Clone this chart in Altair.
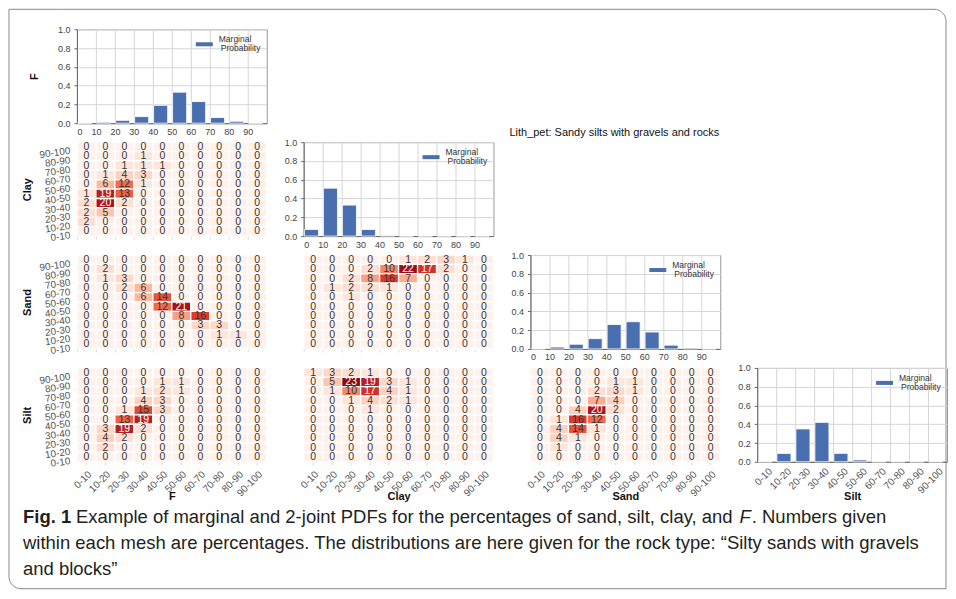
import altair as alt
import pandas as pd

FONT = "Liberation Sans"
W, H = 190, 94

bins = ["0-10", "10-20", "20-30", "30-40", "40-50", "50-60", "60-70", "70-80", "80-90", "90-100"]
bin_start = [0, 10, 20, 30, 40, 50, 60, 70, 80, 90]

# Marginal probabilities (bar charts)
f_marginal = [0.00, 0.01, 0.03, 0.07, 0.19, 0.33, 0.23, 0.06, 0.02, 0.00]
clay_marginal = [0.07, 0.51, 0.33, 0.07, 0.005, 0.00, 0.00, 0.00, 0.00, 0.00]
sand_marginal = [0.00, 0.02, 0.05, 0.11, 0.26, 0.29, 0.18, 0.04, 0.01, 0.00]
silt_marginal = [0.00, 0.09, 0.35, 0.42, 0.09, 0.02, 0.00, 0.00, 0.00, 0.00]

# Joint PDFs (%), rows listed from top (90-100) to bottom (0-10)
f_clay = [
    [0, 0, 0, 0, 0, 0, 0, 0, 0, 0],
    [0, 0, 0, 1, 0, 0, 0, 0, 0, 0],
    [0, 0, 1, 1, 1, 0, 0, 0, 0, 0],
    [0, 1, 4, 3, 0, 0, 0, 0, 0, 0],
    [0, 6, 12, 1, 0, 0, 0, 0, 0, 0],
    [1, 19, 13, 0, 0, 0, 0, 0, 0, 0],
    [2, 20, 2, 0, 0, 0, 0, 0, 0, 0],
    [2, 5, 0, 0, 0, 0, 0, 0, 0, 0],
    [2, 0, 0, 0, 0, 0, 0, 0, 0, 0],
    [0, 0, 0, 0, 0, 0, 0, 0, 0, 0],
]
f_sand = [
    [0, 0, 0, 0, 0, 0, 0, 0, 0, 0],
    [0, 2, 0, 0, 0, 0, 0, 0, 0, 0],
    [0, 1, 3, 0, 0, 0, 0, 0, 0, 0],
    [0, 0, 2, 6, 0, 0, 0, 0, 0, 0],
    [0, 0, 0, 6, 14, 0, 0, 0, 0, 0],
    [0, 0, 0, 0, 12, 21, 0, 0, 0, 0],
    [0, 0, 0, 0, 0, 8, 16, 0, 0, 0],
    [0, 0, 0, 0, 0, 0, 3, 3, 0, 0],
    [0, 0, 0, 0, 0, 0, 0, 1, 1, 0],
    [0, 0, 0, 0, 0, 0, 0, 0, 0, 0],
]
f_silt = [
    [0, 0, 0, 0, 0, 0, 0, 0, 0, 0],
    [0, 0, 0, 0, 1, 1, 0, 0, 0, 0],
    [0, 0, 0, 1, 2, 1, 0, 0, 0, 0],
    [0, 0, 0, 4, 3, 0, 0, 0, 0, 0],
    [0, 0, 1, 15, 3, 0, 0, 0, 0, 0],
    [0, 0, 13, 19, 0, 0, 0, 0, 0, 0],
    [0, 3, 19, 2, 0, 0, 0, 0, 0, 0],
    [0, 4, 2, 0, 0, 0, 0, 0, 0, 0],
    [0, 2, 0, 0, 0, 0, 0, 0, 0, 0],
    [0, 0, 0, 0, 0, 0, 0, 0, 0, 0],
]
clay_sand = [
    [0, 0, 0, 0, 0, 1, 2, 3, 1, 0],
    [0, 0, 0, 2, 10, 22, 17, 2, 0, 0],
    [0, 0, 2, 8, 16, 7, 0, 0, 0, 0],
    [0, 1, 2, 2, 1, 0, 0, 0, 0, 0],
    [0, 0, 1, 0, 0, 0, 0, 0, 0, 0],
    [0, 0, 0, 0, 0, 0, 0, 0, 0, 0],
    [0, 0, 0, 0, 0, 0, 0, 0, 0, 0],
    [0, 0, 0, 0, 0, 0, 0, 0, 0, 0],
    [0, 0, 0, 0, 0, 0, 0, 0, 0, 0],
    [0, 0, 0, 0, 0, 0, 0, 0, 0, 0],
]
clay_silt = [
    [1, 3, 2, 1, 0, 0, 0, 0, 0, 0],
    [0, 5, 23, 19, 3, 1, 0, 0, 0, 0],
    [0, 1, 10, 17, 4, 1, 0, 0, 0, 0],
    [0, 0, 1, 4, 2, 1, 0, 0, 0, 0],
    [0, 0, 0, 1, 0, 0, 0, 0, 0, 0],
    [0, 0, 0, 0, 0, 0, 0, 0, 0, 0],
    [0, 0, 0, 0, 0, 0, 0, 0, 0, 0],
    [0, 0, 0, 0, 0, 0, 0, 0, 0, 0],
    [0, 0, 0, 0, 0, 0, 0, 0, 0, 0],
    [0, 0, 0, 0, 0, 0, 0, 0, 0, 0],
]
sand_silt = [
    [0, 0, 0, 0, 0, 0, 0, 0, 0, 0],
    [0, 0, 0, 0, 1, 1, 0, 0, 0, 0],
    [0, 0, 0, 2, 3, 1, 0, 0, 0, 0],
    [0, 0, 0, 7, 4, 0, 0, 0, 0, 0],
    [0, 0, 4, 20, 2, 0, 0, 0, 0, 0],
    [0, 1, 16, 12, 0, 0, 0, 0, 0, 0],
    [0, 4, 14, 1, 0, 0, 0, 0, 0, 0],
    [0, 4, 1, 0, 0, 0, 0, 0, 0, 0],
    [0, 1, 0, 0, 0, 0, 0, 0, 0, 0],
    [0, 0, 0, 0, 0, 0, 0, 0, 0, 0],
]

# colour ramp of the percentage cells
heat_domain = [0, 1, 4, 8, 12, 16, 20, 23]
heat_range = ["#fff1eb", "#fee6dc", "#fdd1bf", "#fb9f82", "#f4684b", "#de3a2c", "#b0131b", "#8e0b16"]

caption_bold = "Fig. 1"
caption_l1a = "Example of marginal and 2-joint PDFs for the percentages of sand, silt, clay, and"
caption_l1b = "F"
caption_l1c = ". Numbers given"
caption_l2 = "within each mesh are percentages. The distributions are here given for the rock type: \u201cSilty sands with gravels"
caption_l3 = "and blocks\u201d"
lith_text = "Lith_pet: Sandy silts with gravels and rocks"

BAR_COLOR = "#4a6fb0"
CAP_SIZE = 18.5
one = pd.DataFrame({"a": [0]})

# Arial / Liberation Sans advance widths (1/1000 em) to place caption pieces
ARIAL = {' ': 278, 'a': 556, 'b': 556, 'c': 500, 'd': 556, 'e': 556, 'f': 278, 'g': 556,
         'h': 556, 'i': 222, 'j': 222, 'k': 500, 'l': 222, 'm': 833, 'n': 556, 'o': 556,
         'p': 556, 'q': 556, 'r': 333, 's': 500, 't': 278, 'u': 556, 'v': 500, 'w': 722,
         'x': 500, 'y': 500, 'z': 500, ',': 278, '.': 278, '-': 333, '2': 556, '1': 556,
         'D': 722, 'E': 667, 'F': 611, 'P': 667, 'S': 667, 'N': 722, 'T': 611}


def text_w(s, size):
    return sum(ARIAL.get(c, 556) for c in s) * size / 1000.0


def heat_df(mat):
    rows = []
    for i, row in enumerate(mat):
        ylab = bins[len(bins) - 1 - i]
        for j, v in enumerate(row):
            rows.append({"x": bins[j], "y": ylab, "v": v})
    return pd.DataFrame(rows)


def heatmap(mat, ytitle=None, xtitle=None):
    df = heat_df(mat)
    if xtitle:
        xaxis = alt.Axis(title=xtitle, labelAngle=-45, labelFontSize=10, labelColor="#555",
                         labelFont=FONT, titleFont=FONT, titleFontSize=11, titleFontWeight="bold",
                         titleColor="#111", domain=False, ticks=True, tickColor="#ddd", tickSize=3,
                         labelPadding=4, labelOverlap=False, titleY=35, titleBaseline="middle")
    else:
        xaxis = alt.Axis(title=None, labels=False, domain=False, ticks=True, tickColor="#ddd",
                         tickSize=3, bandPosition=0)
    if ytitle:
        yaxis = alt.Axis(title=ytitle, labelFontSize=10, labelColor="#555", labelFont=FONT,
                         labelAngle=-8, domain=False, ticks=False, labelPadding=7, labelOffset=4,
                         labelOverlap=False,
                         titleFont=FONT, titleFontWeight="bold", titleFontSize=11, titleColor="#111",
                         titlePadding=6)
    else:
        yaxis = None
    base = alt.Chart(df).encode(
        x=alt.X("x:O", sort=bins, axis=xaxis),
        y=alt.Y("y:O", sort=bins[::-1], axis=yaxis),
    )
    rect = base.mark_rect(stroke="white", strokeWidth=1.3).encode(
        color=alt.Color("v:Q", scale=alt.Scale(domain=heat_domain, range=heat_range), legend=None)
    )
    txt = base.mark_text(font=FONT, fontSize=10.5).encode(
        text="v:Q",
        color=alt.condition("datum.v >= 17", alt.value("white"), alt.value("#333")),
    )
    return alt.layer(rect, txt).properties(width=W, height=H, view=alt.ViewBackground(stroke=None))


def bar(vals, ytitle=None, xtitle=None, cat_labels=False, extra=()):
    df = pd.DataFrame({"start": bin_start, "v": vals})
    df["x1"] = df["start"] + 0.4
    df["x2"] = df["start"] + 7.8
    df["zero"] = 0.0
    if cat_labels:
        xaxis = alt.Axis(values=bin_start, grid=True, gridColor="#d6d6d6", labelFontSize=10,
                         labelColor="#555", labelFont=FONT, domain=True, domainColor="#666",
                         ticks=False, labelAngle=-45, labelOffset=9.5, labelPadding=4,
                         labelOverlap=False,
                         labelExpr="datum.value + '-' + (datum.value + 10)",
                         title=xtitle, titleFont=FONT, titleFontSize=11, titleFontWeight="bold",
                         titleColor="#111", titleY=35, titleBaseline="middle")
    else:
        xaxis = alt.Axis(values=bin_start, grid=True, gridColor="#d6d6d6", labelFontSize=9,
                         labelColor="#444", labelFont=FONT, domain=True, domainColor="#666",
                         ticks=False, labelPadding=4, labelOverlap=False, title=None)
    yaxis = alt.Axis(values=[0, 0.2, 0.4, 0.6, 0.8, 1.0], format=".1f", grid=True,
                     gridColor="#d6d6d6", labelFontSize=9, labelColor="#444", labelFont=FONT,
                     domain=True, domainColor="#666", ticks=True, tickColor="#666", tickSize=3,
                     labelPadding=4, title=ytitle, titleFont=FONT, titleFontSize=11,
                     titleFontWeight="bold", titleColor="#111", titlePadding=18)
    bars = alt.Chart(df).mark_rect(color=BAR_COLOR, stroke="white", strokeWidth=0.8).encode(
        x=alt.X("x1:Q", scale=alt.Scale(domain=[0, 100], nice=False), axis=xaxis),
        x2="x2:Q",
        y=alt.Y("v:Q", scale=alt.Scale(domain=[0, 1], nice=False), axis=yaxis),
        y2="zero:Q",
    )
    sw = alt.Chart(one).mark_rect(color=BAR_COLOR).encode(
        x=alt.value(119), x2=alt.value(136), y=alt.value(13), y2=alt.value(17))
    t1 = alt.Chart(one).mark_text(align="left", baseline="middle", font=FONT, fontSize=8.5,
                                  color="#333").encode(x=alt.value(142), y=alt.value(10),
                                                       text=alt.value("Marginal"))
    t2 = alt.Chart(one).mark_text(align="left", baseline="middle", font=FONT, fontSize=8.5,
                                  color="#333").encode(x=alt.value(144), y=alt.value(19),
                                                       text=alt.value("Probability"))
    return alt.layer(bars, sw, t1, t2, *extra).properties(
        width=W, height=H, view=alt.ViewBackground(stroke="#999"))


def placeholder(extra=()):
    p = alt.Chart(one).mark_point(opacity=0).encode(x=alt.value(0), y=alt.value(0))
    return alt.layer(p, *extra).properties(width=W, height=H, view=alt.ViewBackground(stroke=None))


# frame and caption (relative to the first panel's plot origin)
frame = alt.Chart(one).mark_rect(fill="white", fillOpacity=0, stroke="#8a8a8a", strokeWidth=1,
                                 cornerRadiusTopRight=12, cornerRadiusBottomLeft=12).encode(
    x=alt.value(-68), x2=alt.value(870), y=alt.value(-20), y2=alt.value(560))


def cap(text, x, y, weight="normal", style="normal"):
    return alt.Chart(one).mark_text(align="left", baseline="alphabetic", font=FONT,
                                    fontSize=CAP_SIZE, fontWeight=weight, fontStyle=style,
                                    color="#231f20").encode(
        x=alt.value(x), y=alt.value(y), text=alt.value(text))


x_l1a = -1
x_f = x_l1a + text_w(caption_l1a + " ", CAP_SIZE)
x_rest = x_f + text_w(caption_l1b, CAP_SIZE) + 1

caption = [
    cap(caption_bold, -54, 494, weight="bold"),
    cap(caption_l1a, x_l1a, 494),
    cap(caption_l1b, x_f, 494, style="italic"),
    cap(caption_l1c, x_rest, 494),
    cap(caption_l2, -54, 520),
    cap(caption_l3, -54, 546),
]

lith = alt.Chart(one).mark_text(align="left", baseline="middle", font=FONT, fontSize=11,
                                color="#111").encode(x=alt.value(-21), y=alt.value(-9),
                                                     text=alt.value(lith_text))

cells = [
    bar(f_marginal, ytitle="F", extra=[frame] + caption),
    placeholder(), placeholder(), placeholder(),
    heatmap(f_clay, ytitle="Clay"),
    bar(clay_marginal),
    placeholder([lith]), placeholder(),
    heatmap(f_sand, ytitle="Sand"),
    heatmap(clay_sand),
    bar(sand_marginal),
    placeholder(),
    heatmap(f_silt, ytitle="Silt", xtitle="F"),
    heatmap(clay_silt, xtitle="Clay"),
    heatmap(sand_silt, xtitle="Sand"),
    bar(silt_marginal, xtitle="Silt", cat_labels=True),
]

chart = alt.concat(*cells, columns=4, spacing={"row": 19, "column": 37}).properties(
    bounds="flush", padding=0
).configure(background="white").configure_view(stroke=None)

chart.save("out.html", embed_options={"renderer": "svg", "actions": False})
